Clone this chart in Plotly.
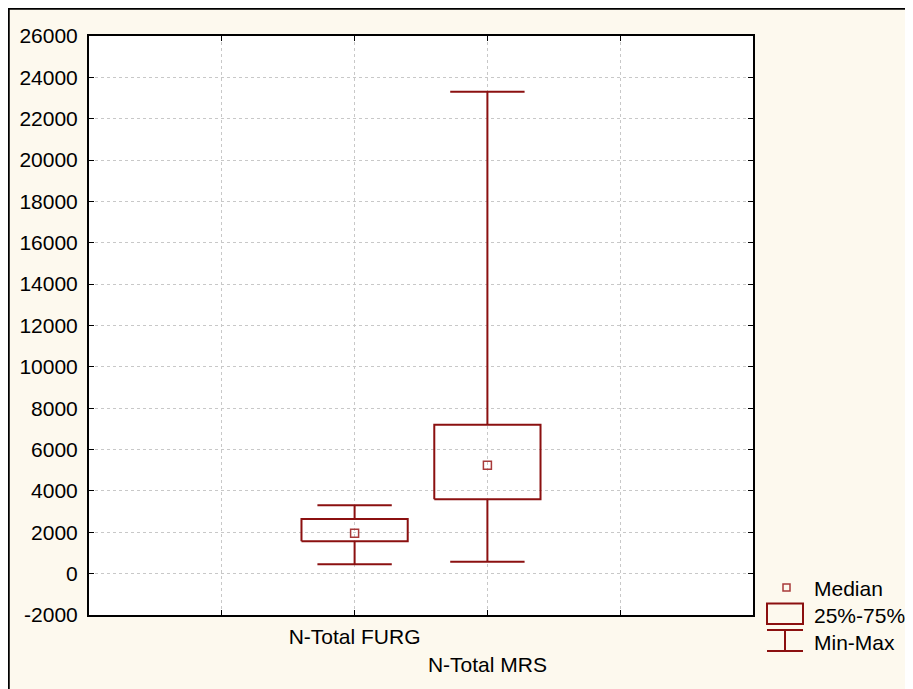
import plotly.graph_objects as go

# ---- data ----
categories = ["N-Total FURG", "N-Total MRS"]
cat_pos = [2, 3]
mins = [450, 580]
q1s = [1562, 3593]
medians = [1949, 5237]
q3s = [2640, 7205]
maxs = [3303, 23308]

y_ticks = [-2000, 0, 2000, 4000, 6000, 8000, 10000, 12000, 14000, 16000,
           18000, 20000, 22000, 24000, 26000]
y_ticktext = [str(v) for v in y_ticks]
x_tickvals = [1, 2, 3, 4]
x_ticktext = ["", "N-Total FURG", "<br>N-Total MRS", ""]

RED = "#8B1010"
MED = "#A83A3A"
BG = "#FDF9EE"
FONT = "Liberation Sans, Arial, sans-serif"

box_half = 0.40
cap_half = 0.28

fig = go.Figure()

# boxes
bx, by = [], []
for c, a, b in zip(cat_pos, q1s, q3s):
    bx += [c - box_half, c + box_half, c + box_half, c - box_half, c - box_half, None]
    by += [a, a, b, b, a, None]
fig.add_trace(go.Scatter(x=bx, y=by, mode="lines", line=dict(color=RED, width=2),
                         showlegend=False, hoverinfo="skip"))

# whiskers + caps
wx, wy = [], []
for c, lo, a, b, hi in zip(cat_pos, mins, q1s, q3s, maxs):
    wx += [c, c, None, c, c, None]
    wy += [a, lo, None, b, hi, None]
    wx += [c - cap_half, c + cap_half, None, c - cap_half, c + cap_half, None]
    wy += [lo, lo, None, hi, hi, None]
fig.add_trace(go.Scatter(x=wx, y=wy, mode="lines", line=dict(color=RED, width=2),
                         showlegend=False, hoverinfo="skip"))

# medians
fig.add_trace(go.Scatter(x=cat_pos, y=medians, mode="markers",
                         marker=dict(symbol="square-open", size=8, color=MED,
                                     line=dict(width=1.5, color=MED)),
                         showlegend=False, hoverinfo="skip"))

# page pixel layout (page has an 8px body margin)
OFF = 8
PW, PH = 913, 689
L, R, T, B = 89, 753, 36, 615
W, H = PW - OFF, PH - OFF


def px(x):
    return (x - L) / (R - L)


def py(y):
    return (B - y) / (B - T)


shapes = []
# figure border (left and top)
shapes.append(dict(type="path", xref="paper", yref="paper",
                   path=f"M {px(8.5)} {py(720)} L {px(8.5)} {py(8.5)} L {px(940)} {py(8.5)}",
                   line=dict(color="black", width=2.5)))
# legend symbols
shapes.append(dict(type="rect", xref="paper", yref="paper",
                   x0=px(783), x1=px(790), y0=py(584), y1=py(591),
                   line=dict(color=MED, width=1.5)))
shapes.append(dict(type="rect", xref="paper", yref="paper",
                   x0=px(767), x1=px(803), y0=py(603.5), y1=py(624),
                   line=dict(color=RED, width=2)))
for seg in [(767, 630, 803, 630), (767, 651, 803, 651), (785, 630, 785, 651)]:
    shapes.append(dict(type="line", xref="paper", yref="paper",
                       x0=px(seg[0]), y0=py(seg[1]), x1=px(seg[2]), y1=py(seg[3]),
                       line=dict(color=RED, width=2)))

annotations = []
for txt, yy in [("Median", 588), ("25%-75%", 615), ("Min-Max", 642)]:
    annotations.append(dict(text=txt, xref="paper", yref="paper", x=px(812), y=py(yy),
                            xanchor="left", yanchor="middle", showarrow=False,
                            font=dict(family=FONT, size=21, color="black")))

fig.update_layout(
    width=W, height=H, autosize=False,
    margin=dict(l=L - OFF, r=PW - R, t=T - OFF, b=PH - B, pad=0),
    paper_bgcolor=BG, plot_bgcolor="white",
    font=dict(family=FONT, size=21, color="black"),
    shapes=shapes, annotations=annotations,
    xaxis=dict(range=[0, 5], tickvals=x_tickvals, ticktext=x_ticktext,
               showgrid=True, gridcolor="#C8C8C8", griddash="dot", gridwidth=1,
               ticks="inside", ticklen=5, tickcolor="black", tickwidth=1,
               showline=True, linecolor="black", linewidth=2, mirror="ticks",
               zeroline=False, tickangle=0, ticklabelstandoff=2),
    yaxis=dict(range=[-2000, 26000], tickvals=y_ticks, ticktext=y_ticktext,
               showgrid=True, gridcolor="#C8C8C8", griddash="dot", gridwidth=1,
               ticks="inside", ticklen=5, tickcolor="black", tickwidth=1,
               showline=True, linecolor="black", linewidth=2, mirror="ticks",
               zeroline=False, ticklabelstandoff=5),
)

fig.write_html("out.html")
